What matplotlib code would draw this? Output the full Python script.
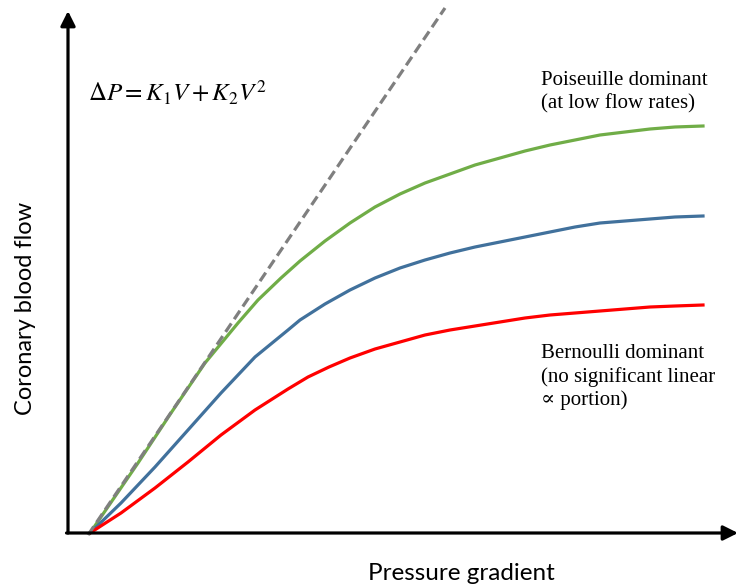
import matplotlib.pyplot as plt
import numpy as np

plt.rcParams['mathtext.fontset'] = 'stix'

# pressure gradient (arbitrary units) and coronary flow for each regime
green_x = [0, 4.8, 8.1, 11.5, 14.8, 16.8, 19.1, 21.0, 23.5, 26.0, 28.5, 31.0, 33.5, 36.0,
           38.5, 41.0, 43.5, 46.0, 48.5, 51.0, 53.5, 56.0, 58.5, 61.3]
green_y = [0, 7.0, 12.0, 17.0, 21.0, 23.3, 25.5, 27.2, 29.2, 31.0, 32.6, 33.9, 35.0, 35.9,
           36.8, 37.5, 38.2, 38.8, 39.3, 39.8, 40.1, 40.4, 40.6, 40.7]

blue_x = [0, 3.1, 6.5, 9.8, 13.1, 16.5, 19.8, 21.0, 23.5, 26.0, 28.5, 31.0, 33.5, 36.0,
          38.5, 41.0, 43.5, 46.0, 48.5, 51.0, 53.5, 56.0, 58.5, 61.3]
blue_y = [0, 3.0, 6.6, 10.3, 14.0, 17.6, 20.3, 21.3, 22.9, 24.3, 25.5, 26.5, 27.3, 28.0,
          28.6, 29.1, 29.6, 30.1, 30.6, 31.0, 31.2, 31.4, 31.6, 31.7]

red_x = [0, 3.1, 6.5, 9.8, 13.1, 16.5, 19.8, 21.8, 23.9, 26.0, 28.5, 31.0, 33.5, 36.0,
         38.5, 41.0, 43.5, 46.0, 48.5, 51.0, 53.5, 56.0, 58.5, 61.3]
red_y = [0, 2.0, 4.5, 7.1, 9.8, 12.3, 14.4, 15.6, 16.6, 17.5, 18.4, 19.1, 19.8, 20.3,
         20.7, 21.1, 21.5, 21.8, 22.0, 22.2, 22.4, 22.6, 22.7, 22.8]

# linear (Poiseuille) asymptote
lin_x = [-0.2, 35.5]
lin_y = [-0.2, 52.5]

fig = plt.figure(figsize=(7.38, 5.88), dpi=100)
ax = fig.add_axes([0, 0, 1, 1])
ax.set_xlim(-9.0, 64.8)
ax.set_ylim(-5.5, 53.3)
ax.axis('off')

ax.plot(lin_x, lin_y, color='#7f7f7f', lw=2.3, dashes=(3.2, 1.6), zorder=3)
ax.plot(green_x, green_y, color='#70ad47', lw=2.3, zorder=2, solid_joinstyle='round')
ax.plot(blue_x, blue_y, color='#41719c', lw=2.3, zorder=2, solid_joinstyle='round')
ax.plot(red_x, red_y, color='#ff0000', lw=2.3, zorder=2, solid_joinstyle='round')

# axes drawn as arrows
arrow = dict(arrowstyle='-|>', lw=2.3, color='black', mutation_scale=22, shrinkA=0, shrinkB=0)
ax.annotate('', xy=(-2.2, 52.2), xytext=(-2.2, 0), arrowprops=arrow)
ax.annotate('', xy=(64.8, 0), xytext=(-2.35, 0), arrowprops=arrow)

ax.text(-0.2, 44.0, r'$\Delta P = K_1V + K_2V^2$', fontsize=18, va='center', ha='left')

serif = dict(family=['Liberation Serif', 'DejaVu Serif'], fontsize=15, ha='left', va='top',
             linespacing=1.25)
ax.text(45.1, 46.2, 'Poiseuille dominant\n(at low flow rates)', **serif)
ax.text(45.1, 18.9, 'Bernoulli dominant\n(no significant linear\n\u221d portion)', **serif)

ax.text(37.1, -4.0, 'Pressure gradient', family='Lato', fontsize=17.5, ha='center', va='center')
ax.text(-6.5, 22.5, 'Coronary blood flow', family='Lato', fontsize=17, rotation=90,
        ha='center', va='center')

fig.savefig('out.png', dpi=100)
